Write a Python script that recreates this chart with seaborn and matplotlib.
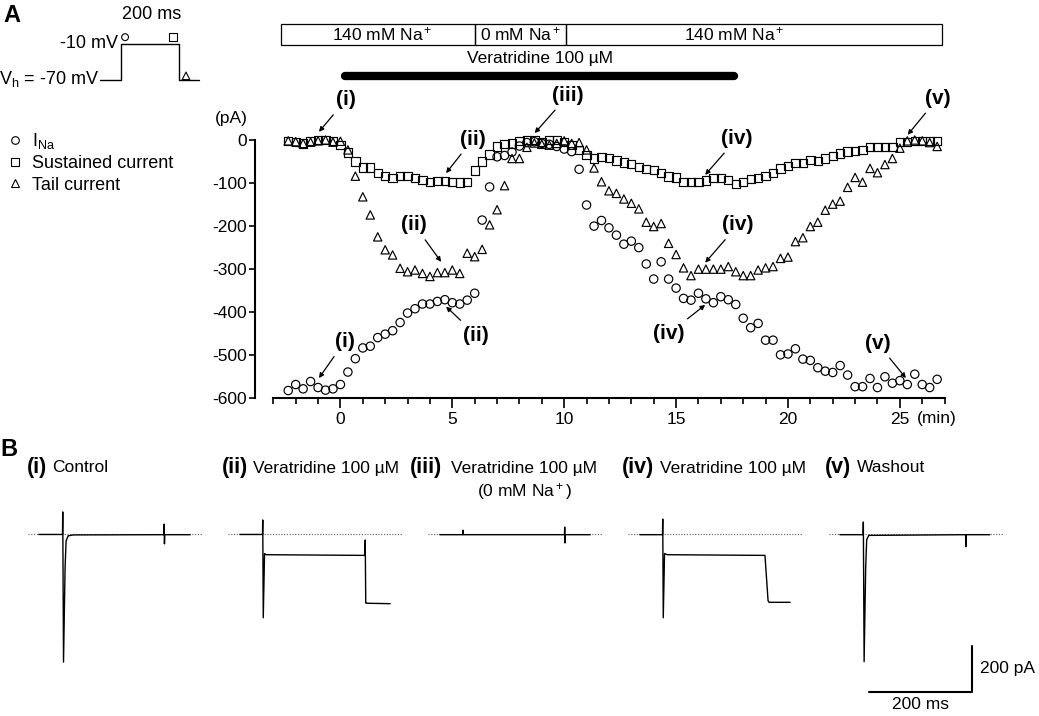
import numpy as np
import pandas as pd
import matplotlib
matplotlib.use("Agg")
import matplotlib.pyplot as plt
from matplotlib.lines import Line2D
from matplotlib.patches import Rectangle
from matplotlib.ticker import MultipleLocator
import seaborn as sns

# ── Data: peak / sustained / tail current, one sweep every 20 s ─────────
SWEEP_START = -7 / 3   # min
SWEEP_STEP = 1 / 3     # min

i_na = [-582, -568, -578, -561, -575, -581, -578, -568, -539, -508,
        -483, -479, -459, -451, -443, -424, -402, -392, -381, -381,
        -375, -371, -378, -381, -372, -356, -186, -109, -39, -36,
        -28, -14, -6, -4, -8, -10, -15, -21, -27, -68,
        -151, -200, -187, -204, -221, -242, -235, -250, -288, -323,
        -283, -323, -344, -368, -372, -356, -369, -378, -364, -371,
        -382, -414, -436, -426, -465, -465, -499, -497, -485, -509,
        -512, -529, -537, -540, -524, -546, -573, -573, -554, -575,
        -550, -565, -559, -568, -544, -568, -575, -556]

sustained = [-3, -5, -8, -2, 0, 0, -3, -12, -29, -50,
             -64, -64, -76, -84, -89, -84, -84, -89, -93, -97,
             -95, -95, -97, -99, -97, -71, -50, -34, -15, -10,
             -8, -2, 0, 0, -5, 0, 0, -4, -12, -23,
             -35, -43, -39, -42, -48, -52, -56, -62, -67, -70,
             -77, -85, -87, -97, -97, -97, -94, -89, -89, -93,
             -102, -98, -91, -89, -84, -76, -66, -60, -54, -54,
             -46, -49, -43, -37, -31, -27, -25, -23, -17, -17,
             -17, -17, -4, -4, -3, -3, -3, -3]

tail = [-2, -4, -8, -5, -2, 0, -5, -3, -23, -84,
        -132, -174, -225, -255, -267, -298, -306, -302, -310, -317,
        -308, -308, -302, -310, -263, -271, -254, -197, -162, -106,
        -43, -43, -17, -7, -10, -12, -8, -2, -8, -6,
        -23, -65, -97, -118, -124, -137, -147, -160, -191, -201,
        -194, -240, -266, -297, -315, -300, -300, -300, -300, -294,
        -306, -315, -315, -302, -297, -294, -275, -272, -236, -227,
        -201, -191, -163, -149, -142, -110, -87, -98, -66, -76,
        -57, -43, -19, -2, 0, -2, -6, -15]

t_min = SWEEP_START + SWEEP_STEP * np.arange(len(i_na))

# solution exchange (min) and veratridine application (min)
solutions = [(-2.67, 6.0, "140 mM Na$^+$", 1.85),
             (6.0, 10.1, "0 mM Na$^+$", 8.05),
             (10.1, 26.9, "140 mM Na$^+$", 17.6)]
veratridine_on, veratridine_off = 0.2, 17.6

# labelled sweeps: (label, arrow tip t, arrow tip I, text t, text I)
marks = [("(i)", -0.96, 19, 0.24, 93),
         ("(ii)", 4.72, -77, 5.92, 2),
         ("(ii)", 4.50, -283, 3.30, -197),
         ("(ii)", 4.72, -387, 6.07, -453),
         ("(i)", -0.96, -553, 0.19, -468),
         ("(iii)", 8.68, 16, 10.18, 104),
         ("(iv)", 16.3, -81, 17.73, 4),
         ("(iv)", 16.3, -285, 17.77, -197),
         ("(iv)", 16.3, -383, 14.69, -449),
         ("(v)", 25.35, 12, 26.69, 97),
         ("(v)", 25.27, -553, 24.0, -472)]

# voltage protocol (ms, mV)
prot_t = [-71, 0, 0, 200, 200, 269]
prot_v = [-70, -70, -10, -10, -70, -70]

# example current traces (ms from pulse onset, pA)
traces = {
    "i": ([-47, -1, -0.5, 1, 4, 6, 10, 20, 196, 196.5, 197, 197.5, 247],
          [-2, -2, 96, -557, -150, -30, -8, -4, -3, 43, -43, -3, -3]),
    "ii": ([-45, -1, -0.5, 0.5, 3, 6, 198, 198.5, 199.5, 201, 247],
           [-2, -2, 61, -364, -85, -90, -93, -26, -300, -301, -303]),
    "iii": ([-45, -0.5, 0, 0.5, 197, 197.5, 198, 198.5, 247],
            [-3, -3, 17, -3, -3, 30, -39, -3, -3]),
    "iv": ([-45, -1, -0.5, 0.5, 3, 8, 198, 204, 206, 247],
           [-3, -3, 65, -364, -85, -90, -93, -290, -297, -297]),
    "v": ([-46, -1, -0.5, 1, 4, 6, 10, 198, 198.5, 199, 245],
          [-3, -3, 52, -555, -150, -25, -6, -3, -55, -3, -3]),
}
trace_titles = [("(i)", "Control"), ("(ii)", "Veratridine 100 µM"),
                ("(iii)", "Veratridine 100 µM"), ("(iv)", "Veratridine 100 µM"),
                ("(v)", "Washout")]

# ── Styling ─────────────────────────────────
sns.set_theme(style="ticks")
plt.rcParams.update({
    "font.family": ["Liberation Sans", "DejaVu Sans"],
    "font.size": 12.5,
    "mathtext.fontset": "custom",
    "mathtext.rm": "Liberation Sans",
    "mathtext.it": "Liberation Sans:italic",
    "mathtext.bf": "Liberation Sans:bold",
    "axes.unicode_minus": False,
    "axes.linewidth": 1.5,
    "text.color": "black",
    "axes.edgecolor": "black",
    "xtick.color": "black",
    "ytick.color": "black",
})

W, H = 1039, 716
fig = plt.figure(figsize=(W / 100, H / 100), dpi=100)


def fpos(x0, y0, x1, y1):
    """pixel box (top-left origin) -> figure fraction rect"""
    return [x0 / W, 1 - y1 / H, (x1 - x0) / W, (y1 - y0) / H]


def ftext(x, y, s, **kw):
    fig.text(x / W, 1 - y / H, s, **kw)


# ── Panel A: time course ─────────────────────
ax = fig.add_axes(fpos(273.3, 140, 944.6, 398.3))
df = pd.DataFrame({
    "t": np.tile(t_min, 3),
    "I": np.concatenate([i_na, sustained, tail]),
    "kind": np.repeat(["I_Na", "Sustained current", "Tail current"], len(t_min)),
})
sns.scatterplot(data=df, x="t", y="I", style="kind",
                markers={"I_Na": "o", "Sustained current": "s", "Tail current": "^"},
                s=36, facecolor="none", edgecolor="black", linewidth=0.85,
                legend=False, ax=ax, clip_on=False, zorder=3)

ax.set_xlim(-3, 27)
ax.set_ylim(-600, 0)
ax.set_xlabel("")
ax.set_ylabel("")
ax.set_xticks([0, 5, 10, 15, 20, 25])
ax.xaxis.set_minor_locator(MultipleLocator(1))
ax.set_yticks([0, -100, -200, -300, -400, -500, -600])
ax.spines["left"].set_position(("outward", 13))
for side in ["top", "right"]:
    ax.spines[side].set_visible(False)
ax.tick_params(axis="x", which="major", length=7, width=1.2, labelsize=12.5, pad=3)
ax.tick_params(axis="x", which="minor", length=4, width=1.2)
ax.tick_params(axis="y", length=4, width=1.2, labelsize=12.5, pad=2)
ftext(937, 418, "(min)", ha="center", va="center", fontsize=12.5)
ftext(231, 118, "(pA)", ha="center", va="center", fontsize=12.5)

for label, tx, ty, lx, ly in marks:
    ax.annotate(label, xy=(tx, ty), xytext=(lx, ly), ha="center", va="center",
                fontsize=15, fontweight="bold", annotation_clip=False,
                arrowprops=dict(arrowstyle="-|>", color="black", lw=0.9,
                                mutation_scale=7, shrinkA=2, shrinkB=0))

# solution bar + veratridine application
for t0, t1, name, tx in solutions:
    ax.add_patch(Rectangle((t0, 221), t1 - t0, 48.5, fill=False, lw=0.9,
                           edgecolor="black", clip_on=False))
    ax.text(tx, 245, name, ha="center", va="center", fontsize=12.5)
ax.plot([veratridine_on, veratridine_off], [149, 149], color="black", lw=6,
        solid_capstyle="round", clip_on=False)
ax.text((veratridine_on + veratridine_off) / 2, 190, "Veratridine 100 µM",
        ha="center", va="center", fontsize=12.5)

# ── Voltage protocol inset ───────────────────
axp = fig.add_axes(fpos(97.4, 38.35, 202.3, 85.95))
axp.plot(prot_t, prot_v, color="black", lw=1)
axp.scatter([15], [2], marker="o", s=24, facecolor="none", edgecolor="black", lw=0.8, clip_on=False)
axp.scatter([178], [2], marker="s", s=34, facecolor="none", edgecolor="black", lw=0.8, clip_on=False)
axp.scatter([224], [-63], marker="^", s=30, facecolor="none", edgecolor="black", lw=0.8, clip_on=False)
axp.set_xlim(-80, 280)
axp.set_ylim(-80, 0)
axp.axis("off")
axp.text(107, 40, "200 ms", ha="center", va="center", fontsize=13)
axp.text(-9, -8, "-10 mV", ha="right", va="center", fontsize=13)
axp.text(-73, -69, "V$_\\mathrm{h}$ = -70 mV", ha="right", va="center", fontsize=13)

handles = [Line2D([], [], marker=m, ls="none", mfc="none", mec="black", ms=5.5, mew=0.8)
           for m in ["o", "s", "^"]]
fig.legend(handles, ["I$_\\mathrm{Na}$", "Sustained current", "Tail current"],
           loc="upper left", bbox_to_anchor=(6 / W, 1 - 131 / H), frameon=False,
           handlelength=1.0, handletextpad=0.45, labelspacing=0.24,
           borderpad=0, borderaxespad=0, fontsize=13)

ftext(12, 15, "A", ha="center", va="center", fontsize=17, fontweight="bold")
ftext(9, 449, "B", ha="center", va="center", fontsize=17, fontweight="bold")

# ── Panel B: example traces ──────────────────
PX_PER_MS = 0.515
PX_PER_PA = 0.23
BASE_Y = 534
onsets = [63, 263, 463, 663, 863.6]
title_x = [(27, 52), (221.7, 253), (410, 450.7), (622, 660), (824.7, 857)]
ms_lim = (-80, 300)
pa_lim = (-760, 150)

for (key, (tt, vv)), x_on, (lab, desc), (bx, dx) in zip(traces.items(), onsets, trace_titles, title_x):
    axb = fig.add_axes(fpos(x_on + ms_lim[0] * PX_PER_MS, BASE_Y - pa_lim[1] * PX_PER_PA,
                            x_on + ms_lim[1] * PX_PER_MS, BASE_Y - pa_lim[0] * PX_PER_PA))
    axb.plot([-68, 272], [0, 0], ls=(0, (1, 1.5)), color="0.35", lw=0.8)
    sns.lineplot(x=tt, y=vv, ax=axb, color="black", lw=1, sort=False, estimator=None)
    axb.set_xlim(*ms_lim)
    axb.set_ylim(*pa_lim)
    axb.axis("off")
    ftext(bx, 468, lab, ha="left", va="center", fontsize=15.5, fontweight="bold")
    ftext(dx, 468, desc, ha="left", va="center", fontsize=12.5)

ftext(476.7, 491, "(0 mM Na$^+$)", ha="left", va="center", fontsize=12.5)

# scale bar on the last trace axes
axb.plot([10, 210, 210], [-687, -687, -487], color="black", lw=1.5, clip_on=False)
axb.text(226, -583, "200 pA", ha="left", va="center", fontsize=12.5)
axb.text(110, -740, "200 ms", ha="center", va="center", fontsize=12.5)

fig.savefig("out.png", dpi=100)
